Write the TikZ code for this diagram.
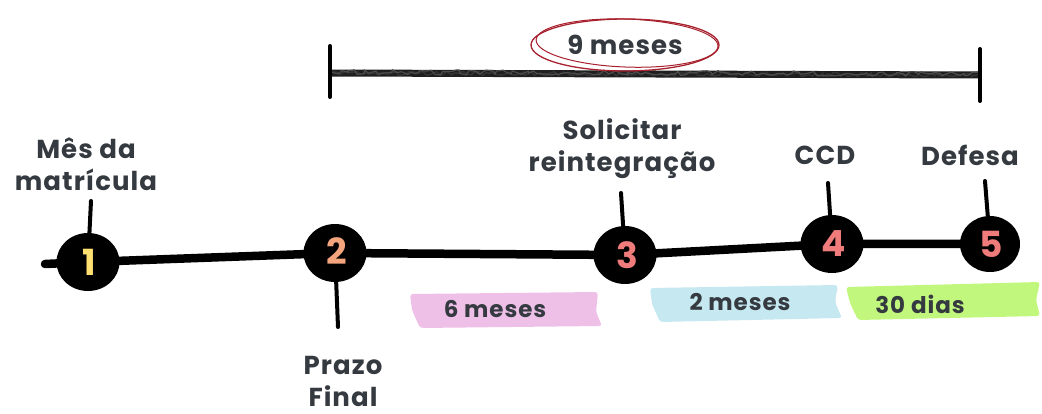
\documentclass[tikz,border=0pt]{standalone}
\usepackage{fontspec}
\setmainfont{Poppins}[LetterSpace=4]
\usetikzlibrary{decorations.pathmorphing,shapes.geometric}
\definecolor{ink}{HTML}{343A40}
\definecolor{nyel}{HTML}{FFE070}
\definecolor{nora}{HTML}{F4A57E}
\definecolor{nred}{HTML}{F07B7B}
\definecolor{hpink}{HTML}{EEC0E8}
\definecolor{hblue}{HTML}{C6E8F0}
\definecolor{hgreen}{HTML}{C2F77E}
\definecolor{ered}{HTML}{A8212E}
\tikzset{
  dot/.style={ellipse, fill=black, minimum width=63pt, minimum height=58pt, inner sep=0pt},
  num/.style={font=\bfseries\fontsize{36}{36}\selectfont},
  lbl/.style={text=ink, font=\bfseries\fontsize{26}{32}\selectfont, align=center, inner sep=0pt},
  tick/.style={line width=4pt, line cap=round},
  tl/.style={line width=8.5pt, line cap=round},
  hl/.style={inner sep=0pt, text=ink, font=\bfseries\fontsize{23}{23}\selectfont},
}
\begin{document}
\begin{tikzpicture}[x=1pt,y=-1pt]
\useasboundingbox (0,0) rectangle (1042,414);
% highlights
\fill[hpink, rounded corners=3pt] (410,294) -- (598,292) -- (596,312) -- (602,326) -- (420,328) -- (412,310) -- cycle;
\fill[hblue, rounded corners=3pt] (650,288) -- (838,285) -- (835,302) -- (842,318) -- (660,322) -- (652,304) -- cycle;
\fill[hgreen, rounded corners=3pt] (846,287) -- (1040,282) -- (1036,300) -- (1040,316) -- (858,320) -- (850,303) -- cycle;
% timeline
\coordinate (start) at (45,264);
\coordinate (c1) at (88,262);
\coordinate (c2) at (335,253);
\coordinate (c3) at (625,255);
\coordinate (c4) at (832,244);
\coordinate (c5) at (990,244);
\draw[tl] (start) -- (c1) -- (c2) -- (c3) -- (c4) -- (c5);
\node[dot] (n1) at (c1) {};
\node[dot] (n2) at (c2) {};
\node[dot] (n3) at (c3) {};
\node[dot] (n4) at (c4) {};
\node[dot, minimum width=60pt, minimum height=56pt] (n5) at (c5) {};
\node[num, text=nyel] at (89,262) {1};
\node[num, text=nora] at (337,251) {2};
\node[num, text=nred] at (627,255) {3};
\node[num, text=nred] at (834,244) {4};
\node[num, text=nred] at (991,244) {5};
% ticks
\coordinate (t1) at (91,201); \draw[tick] (t1) -- (n1);
\coordinate (t2) at (338,327); \draw[tick] (n2) -- (t2);
\coordinate (t3) at (621,193); \draw[tick] (t3) -- (n3);
\coordinate (t4) at (828,183); \draw[tick] (t4) -- (n4);
\coordinate (t5) at (985,181); \draw[tick] (t5) -- (n5);
% labels
\node[lbl] (l1) at (86,164) {Mês da\\matrícula};
\node[lbl] (l2) at (343,381) {Prazo\\Final};
\node[lbl] (l3) at (622,149) {Solicitar\\reintegração};
\node[lbl] (l4) at (825,155) {CCD};
\node[lbl] (l5) at (970,155) {Defesa};
% duration labels
\node[hl] at (495,309) {6 meses};
\node[hl] at (740,302) {2 meses};
\node[hl] at (920,304) {30 dias};
% bracket
\coordinate (b1) at (330,73);
\coordinate (b2) at (980,75);
\draw[line width=7pt, black!88] (b1) -- (b2);
\draw[line width=1.5pt, black!80, decorate, decoration={random steps, segment length=3pt, amplitude=2pt}] (b1) -- (b2);
\draw[line width=1.2pt, black!70, decorate, decoration={random steps, segment length=4pt, amplitude=2.5pt}] ([yshift=1pt]b1) -- ([yshift=1pt]b2);
\coordinate (v1a) at (330,46); \coordinate (v1b) at (330,97);
\coordinate (v2a) at (980,49); \coordinate (v2b) at (980,101);
\draw[tick] (v1a) -- (v1b);
\draw[tick] (v2a) -- (v2b);
% 9 meses
\node[lbl] (nm) at (625,45) {9 meses};
\draw[ered, line width=1.3pt] (625,45) ellipse [x radius=94pt, y radius=26pt];
\draw[ered, line width=1pt, rotate around={-2:(625,45)}] (627,43) ellipse [x radius=91pt, y radius=24pt];
\end{tikzpicture}
\end{document}
